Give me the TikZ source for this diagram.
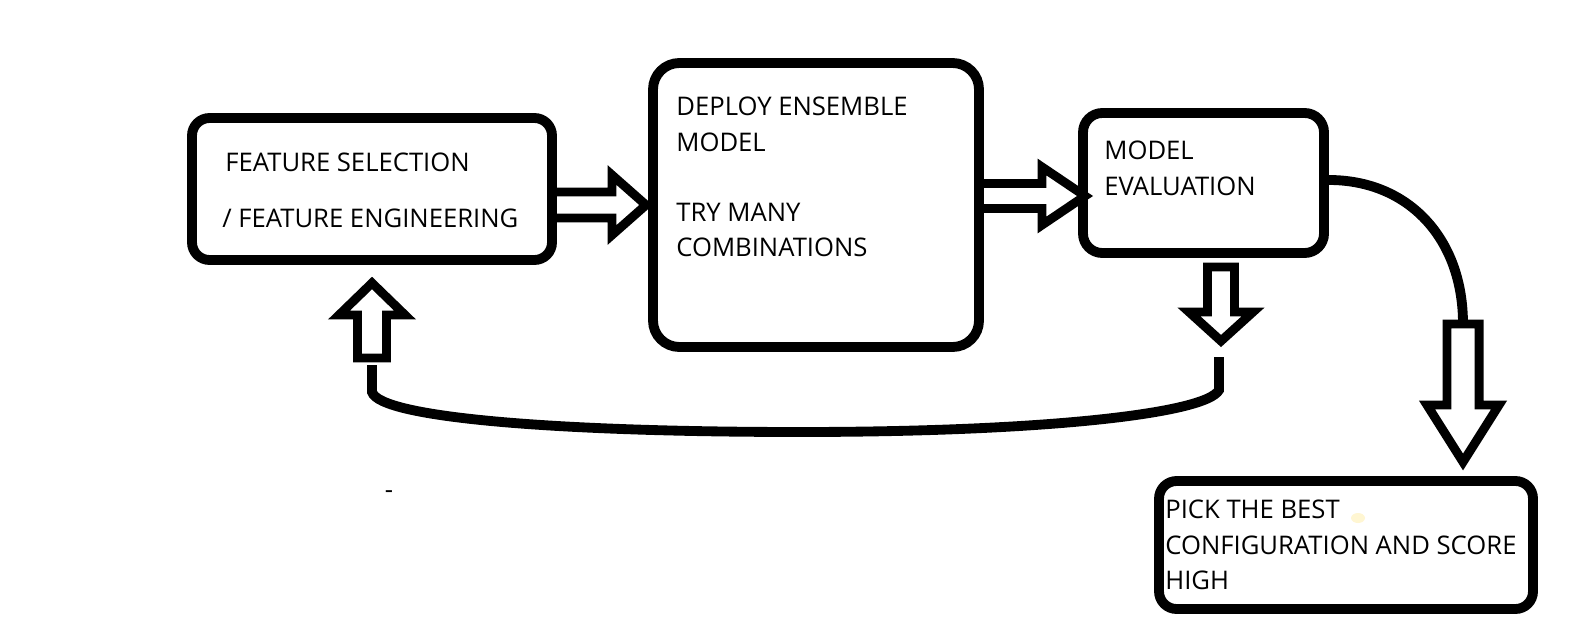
\documentclass[tikz,border=0pt]{standalone}
\usepackage{fontspec}
\setmainfont{Open Sans}
\usetikzlibrary{fit}
\definecolor{blob}{HTML}{FFF6D2}
\begin{document}
\begin{tikzpicture}[x=0.02cm,y=-0.02cm,
  box/.style={draw=black, line width=5.6pt, inner sep=0pt},
  lbl/.style={anchor=base west, inner sep=0pt, font=\fontsize{14.6}{20}\selectfont, text=black},
  blockline/.style={draw=black, fill=white, line width=5.1pt, miter limit=10},
  conn/.style={draw=black, line width=5.6pt},
  pics/barrow/.style n args={4}{code={
    \draw[blockline] (0,-#2) -- (#1-#4,-#2) -- (#1-#4,-#3) -- (#1,0)
      -- (#1-#4,#3) -- (#1-#4,#2) -- (0,#2) -- cycle;
  }}
]
\useasboundingbox (0,0) rectangle (1575,629);
\fill[white] (0,0) rectangle (1575,629);

% anchor points of the block arrows and connectors
\coordinate (a1) at (552,205);
\coordinate (a2) at (979,196);
\coordinate (d1) at (1221,267);
\coordinate (d2) at (1463,324);
\coordinate (u1) at (372,358);
\coordinate (loopR) at (1219,357);
\coordinate (loopL) at (372,365);

% block arrows
\pic at (a1) {barrow={94}{13}{30}{34}};
\pic at (a2) {barrow={106}{12.5}{29}{43}};
\pic[rotate=-90] at (d1) {barrow={74}{13.5}{32}{29}};
\pic[rotate=-90] at (d2) {barrow={138}{16}{36}{57}};
\pic[rotate=90] at (u1) {barrow={75}{14.5}{33}{32}};

% boxes
\node[box, rounded corners=10pt, fit={(192,118) (552,260)}] (feat) {};
\node[box, rounded corners=15pt, fit={(653,63) (979,347)}] (deploy) {};
\node[box, rounded corners=11pt, fit={(1083,113) (1324,253)}] (eval) {};
\node[box, rounded corners=10pt, fit={(1159,481) (1533,609)}] (pick) {};

% feedback loop and curved connector
\draw[conn] (loopR) -- (1219,390) .. controls (1206,414) and (1040,432) .. (800,432)
  .. controls (560,432) and (380,418) .. (372,392) -- (loopL);
\draw[conn] (eval.east |- 0,180) .. controls (1408,180) and (1463,238) .. (d2);

% texts
\node[lbl] (t1) at (225,171) {FEATURE SELECTION};
\node[lbl] (t2) at (222,227) {/ FEATURE ENGINEERING};
\node[lbl] (t3) at (676,115) {DEPLOY ENSEMBLE};
\node[lbl] (t4) at (676,151) {MODEL};
\node[lbl] (t5) at (676,221) {TRY MANY};
\node[lbl] (t6) at (676,256) {COMBINATIONS};
\node[lbl] (t7) at (1104,159) {MODEL};
\node[lbl] (t8) at (1104,195) {EVALUATION};
\node[lbl] (t9) at (1165,518) {PICK THE BEST};
\node[lbl] (t10) at (1165,554) {CONFIGURATION AND SCORE};
\node[lbl] (t11) at (1165,589) {HIGH};
\node[lbl, anchor=base] (dash) at (389,498) {-};

\fill[blob] (1358,518) ellipse [x radius=7, y radius=5];
\end{tikzpicture}
\end{document}
